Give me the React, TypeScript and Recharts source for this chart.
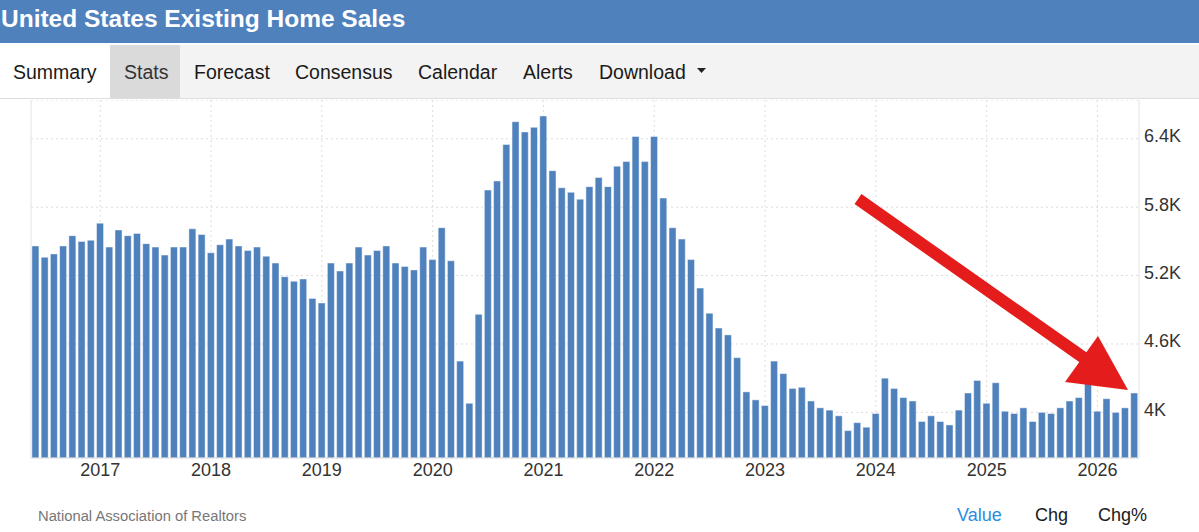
import React from 'react';
import { BarChart, Bar, XAxis, YAxis, CartesianGrid, ReferenceLine } from 'recharts';

// Existing home sales, thousands (SAAR). 2016 starts in June.
const values2016 = [5460, 5360, 5390, 5460, 5550, 5500, 5510];
const values2017 = [5660, 5450, 5600, 5550, 5570, 5480, 5450, 5380, 5450, 5450, 5610, 5560];
const values2018 = [5400, 5470, 5520, 5460, 5420, 5450, 5370, 5310, 5190, 5150, 5170, 5000];
const values2019 = [4960, 5310, 5240, 5310, 5450, 5380, 5420, 5460, 5310, 5280, 5250, 5450];
const values2020 = [5340, 5620, 5330, 4450, 4080, 4860, 5950, 6030, 6350, 6550, 6460, 6500];
const values2021 = [6600, 6120, 5970, 5930, 5870, 5980, 6060, 5980, 6160, 6200, 6420, 6200];
const values2022 = [6420, 5880, 5620, 5520, 5340, 5090, 4870, 4740, 4680, 4480, 4180, 4110];
const values2023 = [4060, 4450, 4340, 4210, 4220, 4100, 4040, 4020, 3970, 3840, 3910, 3870];
const values2024 = [3990, 4300, 4210, 4130, 4100, 3920, 3970, 3920, 3890, 4020, 4170, 4280];
const values2025 = [4080, 4260, 4010, 3990, 4040, 3920, 4000, 3990, 4040, 4100, 4130, 4350];
const values2026 = [4010, 4120, 4000, 4040, 4170];

const monthNames = ['Jan', 'Feb', 'Mar', 'Apr', 'May', 'Jun', 'Jul', 'Aug', 'Sep', 'Oct', 'Nov', 'Dec'];
const yearBlocks: [number, number[]][] = [
  [2016, values2016], [2017, values2017], [2018, values2018], [2019, values2019],
  [2020, values2020], [2021, values2021], [2022, values2022], [2023, values2023],
  [2024, values2024], [2025, values2025], [2026, values2026],
];
const firstMonthOf2016 = 5; // June

const yTicks = [4000, 4600, 5200, 5800, 6400];
const yDomain = [3600, 6740];

const navItems = ['Summary', 'Stats', 'Forecast', 'Consensus', 'Calendar', 'Alerts', 'Download'];
const footerToggles = ['Value', 'Chg', 'Chg%'];

const data: { month: string; value: number }[] = [];
yearBlocks.forEach(([year, vals]) => {
  const start = year === 2016 ? firstMonthOf2016 : 0;
  vals.forEach((v, i) => data.push({ month: `${monthNames[start + i]} ${year}`, value: v }));
});
const janIndices = data.map((d, i) => (d.month.startsWith('Jan') ? i : -1)).filter((i) => i >= 0);

const FONT = '"Liberation Sans", Arial, Helvetica, sans-serif';
const BAR_BLUE = '#4f81bd';

const fmtK = (v: number) => `${+(v / 1000).toFixed(1)}K`;

const XTick = (props: any) => {
  const { x, y, payload } = props;
  const label: string = payload?.value ?? '';
  if (!label.startsWith('Jan')) return <g />;
  return (
    <text x={x} y={y} dy="0.71em" textAnchor="middle" fill="#333" fontSize={18} fontFamily={FONT}>
      {label.split(' ')[1]}
    </text>
  );
};

const YTick = (props: any) => {
  const { x, y, payload } = props;
  return (
    <text x={x} y={y + 3.5} textAnchor="start" fill="#333" fontSize={18} fontFamily={FONT}>
      {fmtK(payload.value)}
    </text>
  );
};

const verticalGen = ({ xAxis, offset }: any) => {
  const band = offset.width / data.length;
  return janIndices.map((i) => {
    const s = xAxis?.scale;
    if (s && typeof s === 'function') {
      const v = s(data[i].month);
      if (typeof v === 'number' && !isNaN(v)) {
        const bw = typeof s.bandwidth === 'function' ? s.bandwidth() : band;
        return v + bw / 2;
      }
    }
    return offset.left + (i + 0.5) * band;
  });
};

const navX = [13, 124, 194, 295, 418, 523, 599];
const footerX = [957, 1035, 1098];

export default function App() {
  return (
    <div
      style={{
        position: 'absolute', left: 0, top: 0, width: 1199, height: 532,
        background: '#fff', fontFamily: FONT, overflow: 'hidden',
      }}
    >
      {/* header */}
      <div style={{ position: 'absolute', left: 0, top: 0, width: 1199, height: 43, background: BAR_BLUE }}>
        <div style={{ position: 'absolute', left: 1, top: 6.5, color: '#fff', fontWeight: 'bold', fontSize: 24.5, lineHeight: '24.5px', whiteSpace: 'nowrap' }}>
          United States Existing Home Sales
        </div>
      </div>
      {/* nav */}
      <div style={{ position: 'absolute', left: 0, top: 45, width: 1199, height: 53, background: '#f3f3f3', borderBottom: '1px solid #dddddd' }}>
        <div style={{ position: 'absolute', left: 0, top: 0, width: 110, height: 53, background: '#ffffff' }} />
        <div style={{ position: 'absolute', left: 110, top: 0, width: 70, height: 53, background: '#dadada' }} />
      </div>
      {navItems.map((t, i) => (
        <div key={t} style={{ position: 'absolute', left: navX[i], top: 62.8, fontSize: 19.5, lineHeight: '19.5px', color: i === 1 ? '#333' : '#1a1a1a', whiteSpace: 'nowrap' }}>
          {t}
        </div>
      ))}
      <svg style={{ position: 'absolute', left: 696, top: 67 }} width={12} height={8}>
        <polygon points="1,1 10,1 5.5,6" fill="#222" />
      </svg>

      {/* chart */}
      <div style={{ position: 'absolute', left: 0, top: 100 }}>
        <BarChart
          width={1199}
          height={400}
          data={data}
          margin={{ top: 0, right: 0, bottom: 12, left: 31 }}
          style={{ fontFamily: FONT }}
        >
          <CartesianGrid stroke="#dcdcdc" strokeDasharray="2 3" verticalCoordinatesGenerator={verticalGen} />
          <XAxis
            dataKey="month"
            interval={0}
            tick={<XTick />}
            tickLine={false}
            tickSize={0}
            tickMargin={5}
            height={30}
            axisLine={{ stroke: '#dddddd' }}
          />
          <YAxis
            orientation="right"
            width={60}
            domain={yDomain}
            ticks={yTicks}
            allowDataOverflow
            tick={<YTick />}
            tickLine={false}
            tickSize={0}
            tickMargin={5}
            axisLine={{ stroke: '#e3e3e3' }}
          />
          <ReferenceLine x={data[0].month} position="start" stroke="#e3e3e3" />
          <Bar
            dataKey="value"
            fill={BAR_BLUE}
            stroke="#ffffff"
            strokeOpacity={0.45}
            strokeWidth={1}
            isAnimationActive={false}
          />
        </BarChart>
      </div>

      {/* annotation arrow */}
      <svg style={{ position: 'absolute', left: 0, top: 0, pointerEvents: 'none' }} width={1199} height={532}>
        <line x1={858} y1={199} x2={1084} y2={358} stroke="#e41c1c" strokeWidth={12} strokeLinecap="butt" />
        <polygon points="1128,390 1065,382 1098,336" fill="#e41c1c" />
      </svg>

      {/* footer */}
      <div style={{ position: 'absolute', left: 38, top: 508.5, fontSize: 14.75, lineHeight: '14.75px', color: '#777', whiteSpace: 'nowrap' }}>
        National Association of Realtors
      </div>
      {footerToggles.map((t, i) => (
        <div key={t} style={{ position: 'absolute', left: footerX[i], top: 506.3, fontSize: 18, lineHeight: '18px', color: i === 0 ? '#2b8ce3' : '#1a1a1a', whiteSpace: 'nowrap' }}>
          {t}
        </div>
      ))}
    </div>
  );
}
